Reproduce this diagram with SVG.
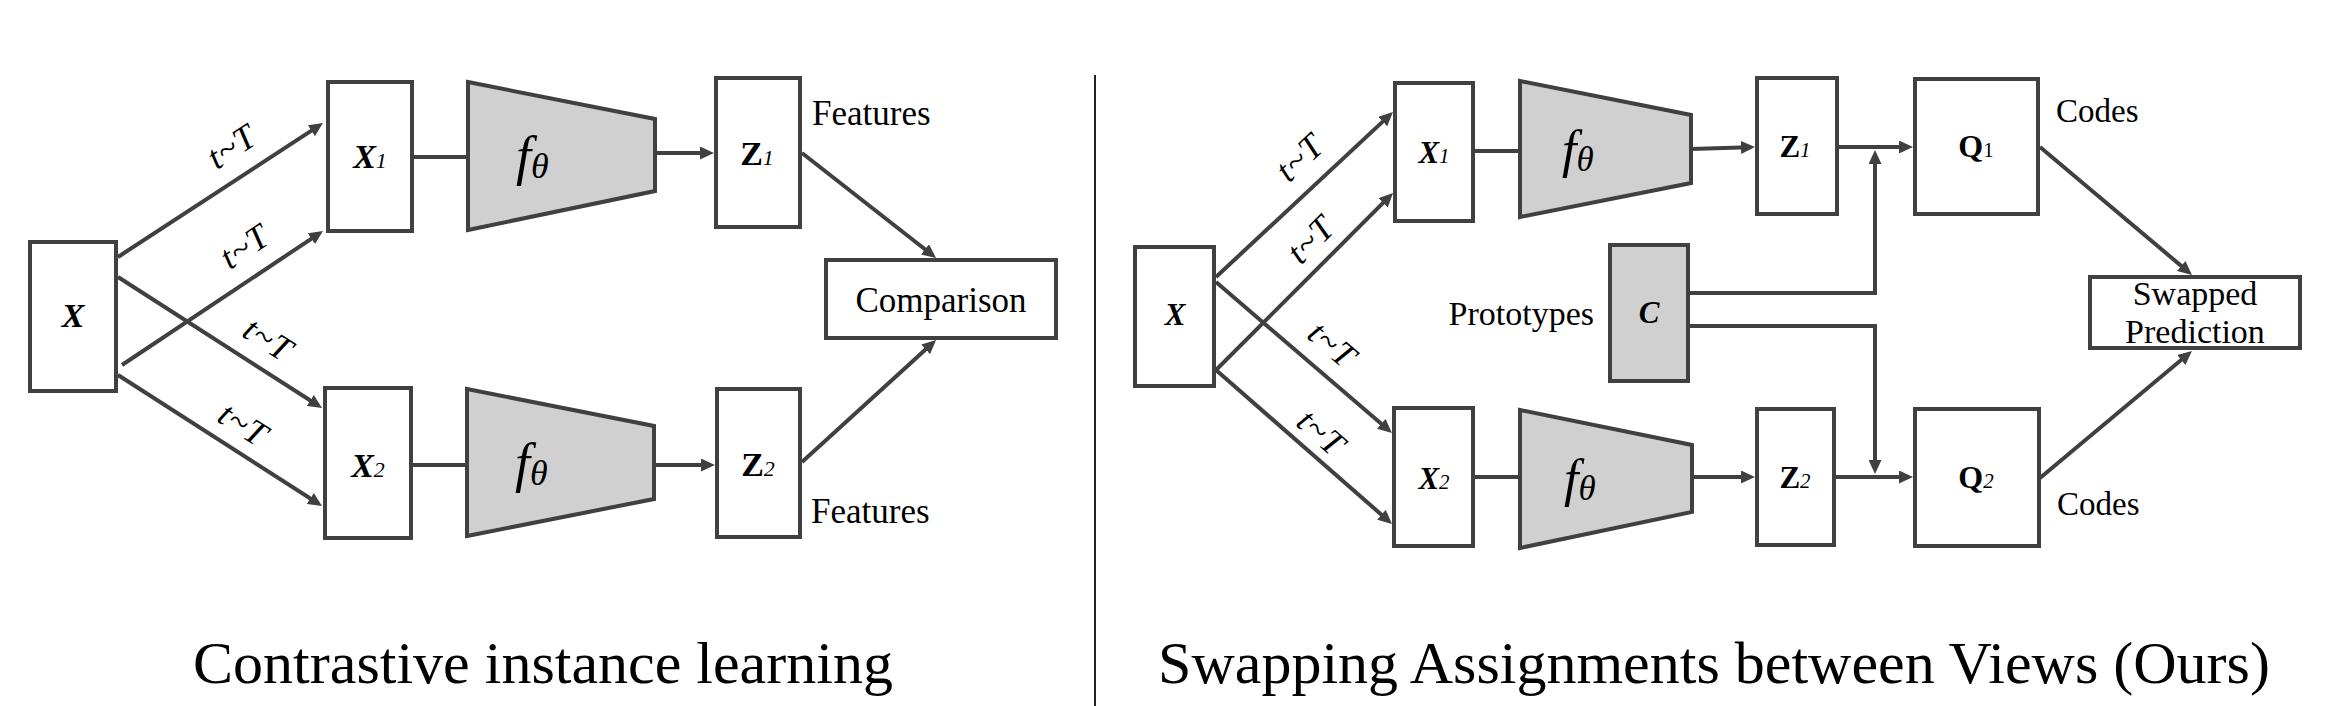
<svg xmlns="http://www.w3.org/2000/svg" width="2338" height="706" viewBox="0 0 2338 706" font-family="'Liberation Serif', 'Times New Roman', Tinos, 'DejaVu Serif', serif">
<style>
.box{fill:#ffffff;stroke:#404040;stroke-width:4}
.gray{fill:#d1d0d1;stroke:#404040;stroke-width:4;stroke-linejoin:miter}
.conn{stroke:#404040;stroke-width:4;fill:none}
.arr{marker-end:url(#ah)}
.t{font-family:'Liberation Serif','Times New Roman',Tinos,'DejaVu Serif',serif;fill:#000}
.lbl{font-size:35px}
.m{font-weight:bold;font-style:italic}
.b{font-weight:bold}
.i{font-style:italic}
.tt{font-family:'Liberation Serif','Times New Roman',Tinos,'DejaVu Serif',serif;font-style:italic;font-size:35px;letter-spacing:1px;fill:#000;text-anchor:middle}
.title{font-family:'Liberation Serif','Times New Roman',Tinos,'DejaVu Serif',serif;font-size:60px;fill:#000;text-anchor:middle}
</style>
<defs>
<marker id="ah" viewBox="0 0 14 13" refX="8" refY="6.5" markerWidth="14" markerHeight="13" markerUnits="userSpaceOnUse" orient="auto">
<path d="M0,0 L14,6.5 L0,13 z" fill="#404040"/>
</marker>
</defs>
<rect width="2338" height="706" fill="#ffffff"/>

<g id="connectors">
<line class="conn arr" x1="118" y1="257" x2="318" y2="126.3"/>
<line class="conn arr" x1="122" y1="365" x2="318" y2="234.3"/>
<line class="conn arr" x1="118" y1="277" x2="317" y2="404.8"/>
<line class="conn arr" x1="118" y1="375" x2="317" y2="502.8"/>
<line class="conn" x1="414" y1="157" x2="468" y2="157"/>
<line class="conn" x1="413" y1="465" x2="467" y2="465"/>
<line class="conn arr" x1="655" y1="153" x2="708" y2="153"/>
<line class="conn arr" x1="654" y1="465" x2="709" y2="465"/>
<line class="conn arr" x1="802" y1="153" x2="931.3" y2="254.3"/>
<line class="conn arr" x1="802" y1="462" x2="931.6" y2="344"/>
<line x1="1095" y1="75" x2="1095" y2="706" stroke="#222" stroke-width="2"/>
<line class="conn arr" x1="1216" y1="277" x2="1388.6" y2="116.1"/>
<line class="conn arr" x1="1216" y1="370" x2="1388.8" y2="197.2"/>
<line class="conn arr" x1="1216" y1="282" x2="1387.4" y2="429.1"/>
<line class="conn arr" x1="1216" y1="370" x2="1387.5" y2="520"/>
<line class="conn" x1="1475" y1="151" x2="1520" y2="151"/>
<line class="conn" x1="1475" y1="477" x2="1520" y2="477"/>
<line class="conn arr" x1="1691" y1="149" x2="1749" y2="147.2"/>
<line class="conn arr" x1="1692" y1="477" x2="1749" y2="477"/>
<line class="conn arr" x1="1839" y1="147" x2="1907" y2="147"/>
<line class="conn arr" x1="1836" y1="477" x2="1907" y2="477"/>
<polyline class="conn arr" points="1690,293 1875,293 1875,156"/>
<polyline class="conn arr" points="1690,326 1875,326 1875,468"/>
<line class="conn arr" x1="2040" y1="147" x2="2187.4" y2="271.1"/>
<line class="conn arr" x1="2040" y1="478" x2="2187.4" y2="354.8"/>
</g>

<g id="labels-t">
<text class="tt" transform="translate(232,147) rotate(-33.2)" x="0" y="11">t~T</text>
<text class="tt" transform="translate(245,247) rotate(-33.7)" x="0" y="11">t~T</text>
<text class="tt" transform="translate(268,340) rotate(32.7)" x="0" y="11">t~T</text>
<text class="tt" transform="translate(243,425) rotate(32.7)" x="0" y="11">t~T</text>
<text class="tt" transform="translate(1300,158) rotate(-43)" x="0" y="11">t~T</text>
<text class="tt" transform="translate(1311,240) rotate(-45)" x="0" y="11">t~T</text>
<text class="tt" transform="translate(1332,345) rotate(40.6)" x="0" y="11">t~T</text>
<text class="tt" transform="translate(1321,433) rotate(41.2)" x="0" y="11">t~T</text>
</g>

<g id="L-X">
<rect class="box" x="30" y="242" width="86" height="149"/>
<text class="t m" x="73" y="327" font-size="34" text-anchor="middle">X</text>
</g>
<g id="L-X1">
<rect class="box" x="328" y="82" width="84" height="149"/>
<text class="t" x="370" y="168" text-anchor="middle"><tspan class="m" font-size="34">X</tspan><tspan class="i" font-size="22">1</tspan></text>
</g>
<g id="L-X2">
<rect class="box" x="325" y="388" width="86" height="150"/>
<text class="t" x="368" y="477" text-anchor="middle"><tspan class="m" font-size="34">X</tspan><tspan class="i" font-size="22">2</tspan></text>
</g>
<g id="L-f1">
<polygon class="gray" points="468,82 655,119 655,191 468,230"/>
<text class="t i" x="516" y="174"><tspan font-size="54">f</tspan><tspan font-size="36" dy="4">θ</tspan></text>
</g>
<g id="L-f2">
<polygon class="gray" points="467,389 654,426 654,499 467,536"/>
<text class="t i" x="515" y="481"><tspan font-size="54">f</tspan><tspan font-size="36" dy="4">θ</tspan></text>
</g>
<g id="L-Z1">
<rect class="box" x="716" y="78" width="84" height="149"/>
<text class="t" x="757" y="165" text-anchor="middle"><tspan class="b" font-size="34">Z</tspan><tspan class="i" font-size="22">1</tspan></text>
</g>
<g id="L-Z2">
<rect class="box" x="717" y="389" width="83" height="148"/>
<text class="t" x="758" y="476" text-anchor="middle"><tspan class="b" font-size="34">Z</tspan><tspan class="i" font-size="22">2</tspan></text>
</g>
<g id="L-features">
<text class="t lbl" x="812" y="125">Features</text>
<text class="t lbl" x="811" y="523">Features</text>
</g>
<g id="L-comparison">
<rect class="box" x="826" y="260" width="230" height="78"/>
<text class="t lbl" x="941" y="312" text-anchor="middle">Comparison</text>
</g>

<g id="R-X">
<rect class="box" x="1135" y="247" width="79" height="139"/>
<text class="t m" x="1175" y="325" font-size="31" text-anchor="middle">X</text>
</g>
<g id="R-X1">
<rect class="box" x="1395" y="83" width="78" height="138"/>
<text class="t" x="1434" y="163" text-anchor="middle"><tspan class="m" font-size="31">X</tspan><tspan class="i" font-size="21">1</tspan></text>
</g>
<g id="R-X2">
<rect class="box" x="1394" y="408" width="79" height="138"/>
<text class="t" x="1434" y="489" text-anchor="middle"><tspan class="m" font-size="31">X</tspan><tspan class="i" font-size="21">2</tspan></text>
</g>
<g id="R-f1">
<polygon class="gray" points="1520,81 1691,115 1691,183 1520,217"/>
<text class="t i" x="1562" y="167"><tspan font-size="52">f</tspan><tspan font-size="35" dy="4">θ</tspan></text>
</g>
<g id="R-f2">
<polygon class="gray" points="1520,410 1692,445 1692,512 1520,548"/>
<text class="t i" x="1564" y="496"><tspan font-size="52">f</tspan><tspan font-size="35" dy="4">θ</tspan></text>
</g>
<g id="R-C">
<rect class="gray" x="1610" y="245" width="78" height="136"/>
<text class="t m" x="1649" y="323" font-size="31" text-anchor="middle">C</text>
</g>
<g id="R-prototypes">
<text class="t" x="1594" y="325" font-size="34" text-anchor="end">Prototypes</text>
</g>
<g id="R-Z1">
<rect class="box" x="1757" y="78" width="80" height="136"/>
<text class="t" x="1795" y="157" text-anchor="middle"><tspan class="b" font-size="31">Z</tspan><tspan class="i" font-size="21">1</tspan></text>
</g>
<g id="R-Z2">
<rect class="box" x="1757" y="409" width="77" height="136"/>
<text class="t" x="1795" y="488" text-anchor="middle"><tspan class="b" font-size="31">Z</tspan><tspan class="i" font-size="21">2</tspan></text>
</g>
<g id="R-Q1">
<rect class="box" x="1915" y="79" width="123" height="135"/>
<text class="t" x="1976" y="157" text-anchor="middle"><tspan class="b" font-size="32">Q</tspan><tspan font-size="21">1</tspan></text>
</g>
<g id="R-Q2">
<rect class="box" x="1915" y="409" width="124" height="137"/>
<text class="t" x="1976" y="488" text-anchor="middle"><tspan class="b" font-size="32">Q</tspan><tspan class="i" font-size="21">2</tspan></text>
</g>
<g id="R-codes">
<text class="t" x="2056" y="122" font-size="33">Codes</text>
<text class="t" x="2057" y="515" font-size="33">Codes</text>
</g>
<g id="R-swapped">
<rect class="box" x="2090" y="277" width="210" height="71"/>
<text class="t" x="2195" y="305" font-size="34" text-anchor="middle">Swapped</text>
<text class="t" x="2195" y="343" font-size="34" text-anchor="middle">Prediction</text>
</g>

<g id="titles">
<text class="title" x="543" y="683">Contrastive instance learning</text>
<text class="title" x="1714" y="683" font-size="59">Swapping Assignments between Views (Ours)</text>
</g>
</svg>
